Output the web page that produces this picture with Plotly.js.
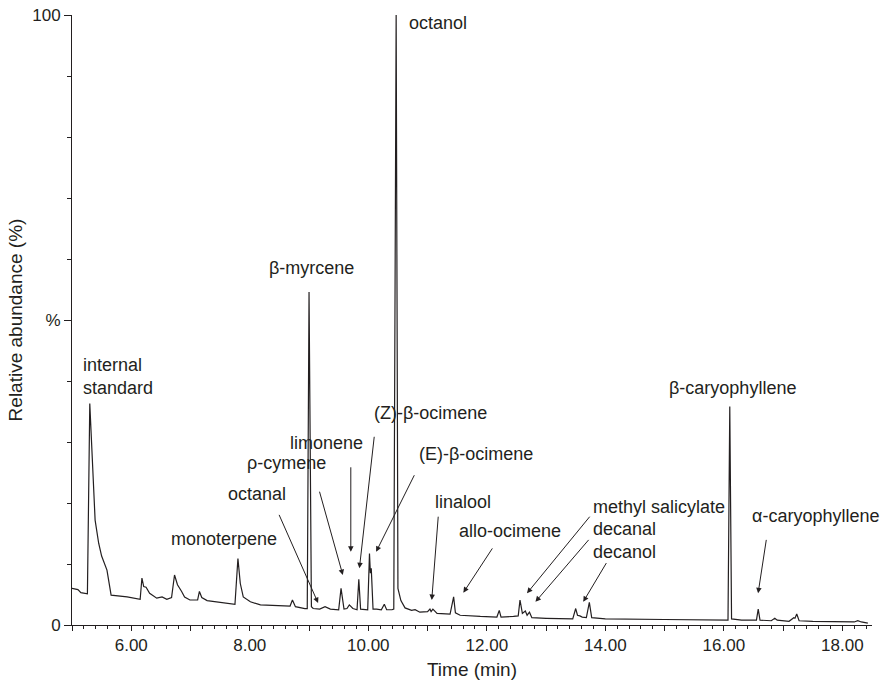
<!DOCTYPE html>
<html>
<head>
<meta charset="utf-8">
<script src="https://cdn.plot.ly/plotly-3.0.1.min.js"></script>
<style>html,body{margin:0;padding:0;background:#fff;}#chart{width:884px;height:685px;}</style>
</head>
<body>
<div id="chart"></div>
<script>
// Retention time (min)
const timeMin = [
  5.00, 5.10, 5.15, 5.22, 5.26, 5.30, 5.34, 5.39, 5.45, 5.50, 5.59, 5.61, 5.63, 5.66,
  5.93, 6.15, 6.18, 6.21, 6.25, 6.31, 6.43, 6.52, 6.60, 6.68, 6.73, 6.78, 6.85, 6.90,
  6.99, 7.12, 7.15, 7.19, 7.28, 7.75, 7.80, 7.84, 7.89, 8.01, 8.18, 8.68, 8.72, 8.77,
  8.93, 8.97, 9.00, 9.04, 9.07, 9.18, 9.27, 9.36, 9.50, 9.54, 9.59, 9.64, 9.68, 9.74,
  9.81, 9.84, 9.87, 9.99, 10.02, 10.035, 10.05, 10.08, 10.14, 10.22, 10.27, 10.31, 10.40,
  10.43, 10.47, 10.50, 10.55, 10.62, 10.73, 10.79, 10.87, 11.00, 11.04, 11.06, 11.09,
  11.16, 11.38, 11.44, 11.47, 11.55, 11.89, 12.17, 12.21, 12.24, 12.45, 12.53, 12.56,
  12.60, 12.65, 12.68, 12.72, 12.76, 13.00, 13.45, 13.50, 13.53, 13.57, 13.61, 13.68,
  13.73, 13.77, 14.00, 15.00, 16.00, 16.07, 16.10, 16.13, 16.30, 16.55, 16.58, 16.61,
  16.80, 16.86, 16.90, 17.10, 17.18, 17.20, 17.23, 17.27, 17.50, 18.00, 18.20, 18.26,
  18.32, 18.43
];
// Relative abundance (%)
const abundance = [
  6.0, 5.8, 5.3, 5.1, 5.1, 36.3, 26.6, 17.2, 13.4, 11.3, 9.0, 7.9, 6.9, 4.9,
  4.6, 4.2, 7.7, 6.3, 6.2, 5.2, 4.4, 4.6, 4.2, 4.5, 8.2, 6.6, 5.5, 4.6,
  4.1, 4.1, 5.5, 4.5, 4.0, 3.4, 10.9, 6.8, 4.6, 3.8, 3.3, 3.1, 4.1, 3.0,
  2.7, 2.7, 54.6, 3.0, 2.7, 2.6, 3.0, 2.6, 2.5, 6.0, 2.6, 2.7, 3.3, 2.7,
  2.5, 7.5, 2.6, 2.5, 11.7, 8.5, 9.3, 2.6, 2.6, 2.5, 3.4, 2.5, 2.5,
  2.6, 100, 6.0, 4.0, 2.8, 2.4, 2.5, 2.1, 2.2, 2.6, 2.2, 2.6,
  1.9, 1.8, 4.6, 2.0, 1.6, 1.4, 1.3, 2.4, 1.3, 1.4, 1.5, 4.1,
  1.9, 2.3, 1.6, 2.1, 1.2, 1.1, 1.0, 2.7, 1.6, 1.5, 1.3, 1.2,
  3.7, 1.2, 1.0, 0.9, 0.8, 0.8, 35.8, 1.0, 0.8, 0.8, 2.6, 0.8,
  0.7, 1.1, 0.8, 0.6, 1.2, 1.1, 1.8, 0.7, 0.6, 0.5, 0.5, 0.7,
  0.5, 0.3
];

// Peak labels: text and where it sits
const labelText = [
  "octanol", "β-myrcene", "internal<br>standard", "monoterpene", "octanal", "ρ-cymene",
  "limonene", "(Z)-β-ocimene", "(E)-β-ocimene", "linalool", "allo-ocimene",
  "methyl salicylate", "decanal", "decanol", "β-caryophyllene", "α-caryophyllene"
];
const labelX = [10.649, 9.047, 5.157, 6.629, 7.597, 7.922, 8.653, 10.059, 10.818, 11.088, 11.492, 13.757, 13.757, 13.757, 16.143, 16.438];
const labelY = [98.7, 58.6, 40.7, 14.05, 21.4, 26.6, 29.8, 34.7, 28.0, 20.2, 15.4, 19.4, 15.7, 12.0, 38.9, 17.8];
const labelAnchor = ["left", "center", "left", "left", "left", "left", "left", "left", "left", "left", "left", "left", "left", "left", "center", "left"];

// Arrows: tail (from label) to head (at peak)
const arrowTailX = [8.484, 9.170, 9.705, 10.103, 10.789, 11.182, 12.110, 13.757, 13.740, 14.032, 16.720];
const arrowTailY = [18.3, 22.1, 26.1, 31.1, 24.8, 18.0, 12.8, 18.0, 14.2, 10.4, 14.2];
const arrowHeadX = [9.153, 9.570, 9.705, 9.850, 10.132, 11.071, 11.604, 12.678, 12.821, 13.627, 16.578];
const arrowHeadY = [3.6, 8.2, 12.0, 9.3, 12.0, 4.1, 5.3, 5.2, 3.8, 3.8, 5.2];

const xTickVals = [5, 6, 7, 8, 9, 10, 11, 12, 13, 14, 15, 16, 17, 18];
const xTickText = ["", "6.00", "", "8.00", "", "10.00", "", "12.00", "", "14.00", "", "16.00", "", "18.00"];
const yTickVals = [0, 50, 100];
const yTickText = ["0", "%", "100"];

const ink = "#231f20";
const font = "'Liberation Sans', Arial, Helvetica, sans-serif";

const annotations = [];
for (let i = 0; i < labelText.length; i++) {
  annotations.push({
    x: labelX[i], y: labelY[i], xref: "x", yref: "y",
    text: labelText[i], showarrow: false,
    xanchor: labelAnchor[i], yanchor: "middle", align: "left",
    font: {family: font, size: 18, color: ink}
  });
}
for (let i = 0; i < arrowHeadX.length; i++) {
  annotations.push({
    x: arrowHeadX[i], y: arrowHeadY[i], xref: "x", yref: "y",
    ax: arrowTailX[i], ay: arrowTailY[i], axref: "x", ayref: "y",
    text: "", showarrow: true, arrowhead: 2, arrowsize: 1.1, arrowwidth: 1,
    arrowcolor: ink, standoff: 0, startstandoff: 0
  });
}

const data = [{
  x: timeMin, y: abundance, type: "scatter", mode: "lines",
  line: {color: ink, width: 1.2}, hoverinfo: "x+y"
}];

const layout = {
  width: 884, height: 685,
  margin: {l: 72, r: 12, t: 15, b: 60},
  paper_bgcolor: "#fff", plot_bgcolor: "#fff",
  showlegend: false,
  font: {family: font, size: 17, color: ink},
  xaxis: {
    range: [5, 18.5], showgrid: false, zeroline: false,
    showline: true, linecolor: ink, linewidth: 1,
    tickmode: "array", tickvals: xTickVals, ticktext: xTickText,
    ticks: "outside", ticklen: 5, tickwidth: 1, tickcolor: ink,
    minor: {dtick: 0.2, tick0: 5, ticks: "outside", ticklen: 3, tickwidth: 1, tickcolor: ink, showgrid: false},
    tickfont: {family: font, size: 17, color: ink},
    title: {text: "Time (min)", font: {family: font, size: 19, color: ink}, standoff: 8}
  },
  yaxis: {
    range: [0, 100], showgrid: false, zeroline: false,
    showline: true, linecolor: ink, linewidth: 1,
    tickmode: "array", tickvals: yTickVals, ticktext: yTickText,
    ticks: "outside", ticklen: 7, tickwidth: 1, tickcolor: ink,
    minor: {dtick: 10, tick0: 0, ticks: "outside", ticklen: 4, tickwidth: 1, tickcolor: ink, showgrid: false},
    tickfont: {family: font, size: 17, color: ink},
    title: {text: "Relative abundance (%)", font: {family: font, size: 19, color: ink}, standoff: 4}
  },
  annotations: annotations
};

Plotly.newPlot("chart", data, layout, {displayModeBar: false, staticPlot: true});
</script>
</body>
</html>
